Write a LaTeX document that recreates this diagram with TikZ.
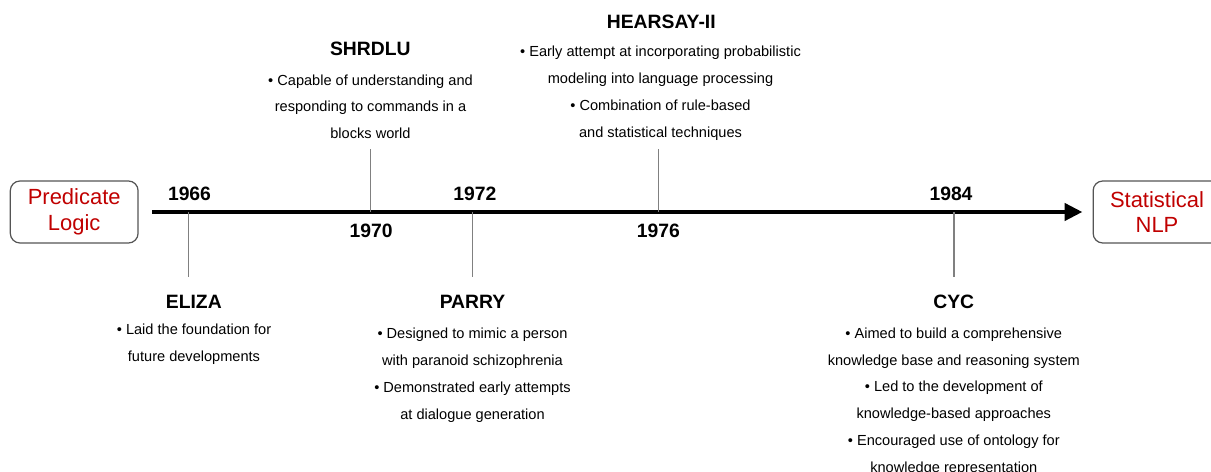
\documentclass[tikz,border=0pt]{standalone}
\usepackage{fontspec}
\setmainfont{Liberation Sans}
\usepackage{tikz}
\usetikzlibrary{arrows.meta, positioning}
\definecolor{logicred}{RGB}{192,0,0}
\definecolor{tickgray}{RGB}{128,128,128}
\definecolor{boxgray}{RGB}{85,85,85}

\begin{document}
\begin{tikzpicture}[x=0.02cm, y=-0.02cm,
  endbox/.style={draw=boxgray, line width=0.7pt, rounded corners=5.5pt, minimum width=72.7pt, minimum height=35.3pt, inner sep=0pt, align=center, text=logicred, font={\fontsize{12.5}{14.7}\selectfont}},
  yearlbl/.style={anchor=base, font={\fontsize{11}{13}\selectfont\bfseries}},
  titlelbl/.style={anchor=base, font={\fontsize{11}{13}\selectfont\bfseries}},
  desclbl/.style={anchor=north, inner sep=0pt, align=center, font={\fontsize{8.3}{15.2}\selectfont}},
  tickline/.style={draw=tickgray, line width=0.85pt},
  timeline/.style={line width=2.66pt, shorten <=7.6pt, shorten >=5.7pt, -{Triangle[length=10.2pt, width=9.6pt]}}]
\useasboundingbox (0,0) rectangle (1211,472);
\clip (0,0) rectangle (1211,472);

% end boxes and timeline
\node[endbox] (pl) at (74.2,212) {Predicate\\Logic};
\node[endbox] (sn) at (1157,212) {Statistical\\NLP};
\draw[timeline] (pl) -- (sn);

% ticks
\coordinate (on66) at (188.3,212);  \coordinate (end66) at (188.3,277.3);
\coordinate (on70) at (370.7,212);  \coordinate (end70) at (370.7,149.3);
\coordinate (on72) at (472.3,212);  \coordinate (end72) at (472.3,277.3);
\coordinate (on76) at (658.3,212);  \coordinate (end76) at (658.3,149.3);
\coordinate (on84) at (954,212);    \coordinate (end84) at (954,277.3);
\draw[tickline] (on66) -- (end66);
\draw[tickline] (on70) -- (end70);
\draw[tickline] (on72) -- (end72);
\draw[tickline] (on76) -- (end76);
\draw[tickline] (on84) -- (end84);

% years
\node[yearlbl] (y66) at (189.5,200.5) {1966};
\node[yearlbl] (y70) at (371.2,237.5) {1970};
\node[yearlbl] (y72) at (474.8,200.5) {1972};
\node[yearlbl] (y76) at (658.3,237.5) {1976};
\node[yearlbl] (y84) at (951,200.5) {1984};

% systems
\node[titlelbl] (eliza) at (193.8,308.3) {ELIZA};
\node[desclbl] (elizad) at (194,323.6) {• Laid the foundation for\\future developments};

\node[titlelbl] (shrdlu) at (370.3,56) {SHRDLU};
\node[desclbl] (shrdlud) at (370.5,74.1) {• Capable of understanding and\\responding to commands in a\\blocks world};

\node[titlelbl] (parry) at (472.5,308.3) {PARRY};
\node[desclbl] (parryd) at (472.5,328) {• Designed to mimic a person\\with paranoid schizophrenia\\• Demonstrated early attempts\\at dialogue generation};

\node[titlelbl] (hearsay) at (661.3,28.3) {HEARSAY-II};
\node[desclbl] (hearsayd) at (660.5,46) {• Early attempt at incorporating probabilistic\\modeling into language processing\\• Combination of rule-based\\and statistical techniques};

\node[titlelbl] (cyc) at (953.7,308.3) {CYC};
\node[desclbl] (cycd) at (953.8,327.6) {• Aimed to build a comprehensive\\knowledge base and reasoning system\\• Led to the development of\\knowledge-based approaches\\• Encouraged use of ontology for\\knowledge representation};
\end{tikzpicture}
\end{document}
